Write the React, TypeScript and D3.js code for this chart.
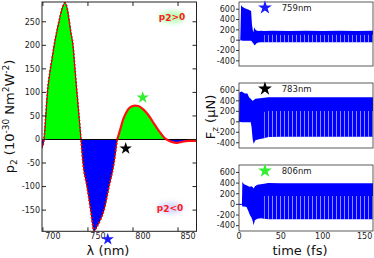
import * as d3 from 'd3'

// left panel: p2 spectrum
const LAMBDA = [699, 701.2, 703, 705, 707.5, 710, 712.5, 715.5, 718, 721, 724.5, 727, 729, 731, 733.4, 735.6, 737.8, 740.1, 742.3,
  744.5, 749, 753, 755, 756.7, 760, 764, 767.8, 773.4, 778.9, 782.5,
  785.6, 789.2, 793, 796.7, 802.2, 805.9, 811.4, 817, 822.6, 828.1, 833.7, 837.4, 843, 848.6, 854.1, 861.4, 870.5]
const P2 = [-17, 0, 45, 100, 140, 170, 200, 230, 252, 276, 290, 278, 255, 228, 200, 150, 100, 50, 0,
  -50, -100, -150, -178, -195, -185, -170, -150, -100, -50, 0,
  20, 43, 59, 68, 72, 71, 64, 52, 36, 20, 6, 0, -5, -7, -5, -3, -3]
const P2_TICKS = [-150, -100, -50, 0, 50, 100, 150, 200, 250]
const LAMBDA_TICKS = [700, 750, 800, 850]
const SPEC_STARS = [
  { lambda: 772, p2: -212, color: '#1a1aff' },
  { lambda: 791.9, p2: -19, color: '#000000' },
  { lambda: 810.8, p2: 89, color: '#33ee33' },
]

// right panels: F_z(t) envelopes
const TIME_TICKS = [0, 50, 100, 150]
const FZ_TICKS = [-400, -200, 0, 200, 400, 600]
const PANEL_LABELS = ['759nm', '783nm', '806nm']
const PANEL_STAR_COLORS = ['#1a1aff', '#000000', '#33ee33']

const T1 = [0, 1.5, 2.5, 4, 7, 10, 13, 14.5, 15.5, 17, 18.5, 19.5, 21, 23, 26, 30, 40, 60, 80, 100, 120, 140, 160]
const UP1 = [0, 0, 680, 650, 620, 600, 580, 560, 300, 150, 250, 200, 190, 180, 185, 180, 185, 180, 185, 180, 185, 180, 185]
const LO1 = [0, 0, 0, -10, -10, -10, -10, -10, -30, -60, -100, -90, -60, -45, -40, -40, -40, -40, -40, -40, -40, -40, -40]

const T2 = [0, 0.5, 3, 7, 10, 12, 14, 15, 16.2, 17.5, 19.6, 25, 30, 35, 50, 80, 110, 140, 160]
const UP2 = [0, 560, 580, 540, 540, 470, 440, 420, 400, 410, 440, 450, 460, 470, 470, 470, 470, 470, 470]
const LO2 = [0, 0, -10, -10, -10, -10, -10, -100, -320, -420, -350, -330, -315, -290, -285, -285, -285, -285, -285]

const T3 = [0, 3.5, 4, 6, 9, 11, 13, 15, 16.5, 17.5, 19, 22, 26, 30, 35, 50, 80, 110, 140, 160]
const UP3 = [0, 0, 420, 380, 360, 340, 330, 340, 320, 300, 340, 370, 380, 390, 400, 395, 395, 395, 395, 395]
const LO3 = [0, 0, -40, -40, -50, -120, -200, -250, -320, -390, -300, -270, -260, -270, -280, -280, -280, -280, -280, -280]

const PANELS = [
  { t: T1, up: UP1, lo: LO1 },
  { t: T2, up: UP2, lo: LO2 },
  { t: T3, up: UP3, lo: LO3 },
]

const FONT = 'DejaVu Sans, sans-serif'
const star = d3.symbol().type(d3.symbolStar)

function Spectrum() {
  const x = d3.scaleLinear().domain([699, 870.5]).range([42, 196.5])
  const y = d3.scaleLinear().domain([-195, 292]).range([231.3, 2])
  const pts = LAMBDA.map((l, i) => ({ l, v: P2[i] }))
  const area = d3.area<{ l: number; v: number }>()
    .x((d) => x(d.l))
    .y0(y(0))
    .y1((d) => y(d.v))
    .curve(d3.curveMonotoneX)
  const line = d3.line<{ l: number; v: number }>()
    .x((d) => x(d.l))
    .y((d) => y(d.v))
    .curve(d3.curveMonotoneX)
  const split = 782.5
  const first = pts.filter((d) => d.l <= split)
  const second = pts.filter((d) => d.l >= split)
  const [x0, x1] = x.range()
  const [yb, yt] = y.range()

  return (
    <g>
      <defs>
        <clipPath id="pos">
          <rect x={x0} y={yt} width={x1 - x0} height={y(0) - yt} />
        </clipPath>
        <clipPath id="neg">
          <rect x={x0} y={y(0)} width={x1 - x0} height={yb - y(0)} />
        </clipPath>
        <clipPath id="frame">
          <rect x={x0} y={yt} width={x1 - x0} height={yb - yt} />
        </clipPath>
        <filter id="glow" x="-50%" y="-50%" width="200%" height="200%">
          <feGaussianBlur stdDeviation="2.5" />
        </filter>
      </defs>
      <path d={area(pts) ?? ''} fill="#00ff00" clipPath="url(#pos)" />
      <path d={area(pts) ?? ''} fill="#0000ff" clipPath="url(#neg)" />
      <line x1={x0} x2={x1} y1={y(0)} y2={y(0)} stroke="#000" strokeWidth={1} />
      <g clipPath="url(#frame)">
        <path d={line(first) ?? ''} fill="none" stroke="#000" strokeWidth={0.8} />
        <path d={line(first) ?? ''} fill="none" stroke="#ff0000" strokeWidth={2} strokeLinecap="round" strokeDasharray="0.1 3.4" />
        <path d={line(second) ?? ''} fill="none" stroke="#ff1010" strokeWidth={2.2} />
      </g>
      <rect x={x0} y={yt} width={x1 - x0} height={yb - yt} fill="none" stroke="#222" strokeWidth={1} />
      {P2_TICKS.map((v) => (
        <g key={v}>
          <line x1={x0} x2={x0 + 4} y1={y(v)} y2={y(v)} stroke="#222" />
          <line x1={x1 - 4} x2={x1} y1={y(v)} y2={y(v)} stroke="#222" />
          <text x={x0 - 2} y={y(v)} dy="0.35em" textAnchor="end" fontSize={8} fontFamily={FONT} fill="#222">
            {String(v)}
          </text>
        </g>
      ))}
      {LAMBDA_TICKS.map((v) => (
        <g key={v}>
          <line x1={x(v)} x2={x(v)} y1={yb} y2={yb - 4} stroke="#222" />
          <line x1={x(v)} x2={x(v)} y1={yt} y2={yt + 4} stroke="#222" />
          <text x={x(v) + 10} y={yb + 8} textAnchor="middle" fontSize={8} fontFamily={FONT} fill="#222">
            {String(v)}
          </text>
        </g>
      ))}
      {SPEC_STARS.map((s, i) => (
        <path key={i} d={star.size(48)() ?? ''} transform={`translate(${x(s.lambda)},${y(s.p2)})`} fill={s.color} />
      ))}
      <ellipse cx={172} cy={17} rx={13} ry={6} fill="#7dff7d" opacity={0.55} filter="url(#glow)" />
      <text x={172} y={20} textAnchor="middle" fontSize={9} fontWeight="bold" fontFamily={FONT} fill="#ff1a1a">
        p<tspan dy={1}>2</tspan><tspan dy={-1}>&gt;0</tspan>
      </text>
      <ellipse cx={170} cy={208} rx={13} ry={6} fill="#b8b8ff" opacity={0.55} filter="url(#glow)" />
      <text x={170} y={211} textAnchor="middle" fontSize={9} fontWeight="bold" fontFamily={FONT} fill="#ff1a1a">
        p<tspan dy={1}>2</tspan><tspan dy={-1}>&lt;0</tspan>
      </text>
      <text transform={`translate(14,116.5) rotate(-90)`} textAnchor="middle" fontSize={13} fontFamily={FONT} fill="#111">
        p<tspan fontSize={9} dy={3}>2</tspan>
        <tspan dy={-3}> (10</tspan>
        <tspan fontSize={9} dy={-5}>-30</tspan>
        <tspan dy={5}> Nm</tspan>
        <tspan fontSize={9} dy={-5}>2</tspan>
        <tspan dy={5}>W</tspan>
        <tspan fontSize={9} dy={-5}>-2</tspan>
        <tspan dy={5}>)</tspan>
      </text>
      <text x={108} y={255} textAnchor="middle" fontSize={13} fontFamily={FONT} fill="#111">
        λ (nm)
      </text>
    </g>
  )
}

const PANEL_BOXES = [
  [2, 66],
  [83, 148],
  [165, 231],
]

function ForcePanels() {
  const x = d3.scaleLinear().domain([0, 160]).range([239, 373])
  return (
    <g>
      <defs>
        <pattern id="streaks" width={4} height={10} patternUnits="userSpaceOnUse">
          <rect x={0} y={0} width={1} height={10} fill="#fff" opacity={0.55} />
        </pattern>
      </defs>
      {PANELS.map((p, i) => {
        const [top, bottom] = PANEL_BOXES[i]
        const y = d3.scaleLinear().domain([-500, 740]).range([bottom, top])
        const pts = p.t.map((t, k) => ({ t, up: p.up[k], lo: p.lo[k] }))
        const band = d3.area<{ t: number; up: number; lo: number }>()
          .x((d) => x(d.t))
          .y0((d) => y(d.lo))
          .y1((d) => y(d.up))
        const streak = d3.area<{ t: number; up: number; lo: number }>()
          .defined((d) => d.t >= 28)
          .x((d) => x(d.t))
          .y0((d) => y(d.lo))
          .y1((d) => y(d.lo + (d.up - d.lo) * 0.65))
        const [x0, x1] = x.range()
        return (
          <g key={i}>
            <line x1={x0} x2={x(p.t[1])} y1={y(0)} y2={y(0)} stroke="#0000ff" strokeWidth={1} />
            <path d={band(pts) ?? ''} fill="#0000ff" />
            <path d={streak(pts) ?? ''} fill="url(#streaks)" />
            <rect x={x0} y={top} width={x1 - x0} height={bottom - top} fill="none" stroke="#333" strokeWidth={0.8} />
            {FZ_TICKS.map((v) => (
              <g key={v}>
                <line x1={x0 - 3} x2={x0} y1={y(v)} y2={y(v)} stroke="#333" />
                <text x={x0 - 4} y={y(v)} dy="0.35em" textAnchor="end" fontSize={8} fontFamily={FONT} fill="#222">
                  {String(v)}
                </text>
              </g>
            ))}
            <path d={star.size(60)() ?? ''} transform={`translate(${x(31)},${y(630)})`} fill={PANEL_STAR_COLORS[i]} />
            <text x={x(51)} y={y(630)} dy="0.35em" fontSize={8.5} fontFamily={FONT} fill="#222">
              {PANEL_LABELS[i]}
            </text>
          </g>
        )
      })}
      {TIME_TICKS.map((v) => (
        <text key={v} x={x(v)} y={239} textAnchor="middle" fontSize={8} fontFamily={FONT} fill="#222">
          {String(v)}
        </text>
      ))}
      <text x={300} y={255} textAnchor="middle" fontSize={13} fontFamily={FONT} fill="#111">
        time (fs)
      </text>
      <text transform={`translate(215,117) rotate(-90)`} textAnchor="middle" fontSize={13} fontFamily={FONT} fill="#111">
        F<tspan fontSize={9} dy={3}>z</tspan>
        <tspan dy={-3}> (μN)</tspan>
      </text>
    </g>
  )
}

export default function App() {
  return (
    <div style={{ position: 'absolute', left: 0, top: 0 }}>
      <svg width={374} height={258} viewBox="0 0 374 258" style={{ display: 'block', background: '#fff' }}>
        <Spectrum />
        <ForcePanels />
      </svg>
    </div>
  )
}
